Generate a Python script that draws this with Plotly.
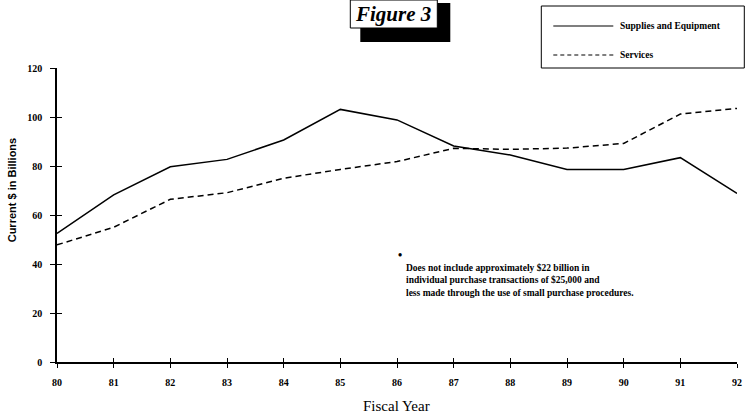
import plotly.graph_objects as go

years = [80, 81, 82, 83, 84, 85, 86, 87, 88, 89, 90, 91, 92]
supplies = [52.5, 68.2, 79.7, 82.7, 90.6, 103.1, 98.8, 88.2, 84.5, 78.6, 78.6, 83.4, 68.8]
services = [47.8, 55.0, 66.4, 69.1, 75.0, 78.6, 81.8, 87.2, 86.8, 87.3, 89.2, 101.2, 103.5]
y_ticks = [0, 20, 40, 60, 80, 100, 120]
x_tick_labels = [str(y) for y in years]

# plot area geometry (pixels)
W, H = 746, 418
L, R, T, B = 56.7, 736.7, 68, 362


def px(x):
    return (x - L) / (R - L)


def py(y):
    return (B - y) / (B - T)


SERIF = "Liberation Serif, Times New Roman, serif"
SANSN = "Liberation Sans Narrow, Liberation Sans, Arial Narrow, sans-serif"

fig = go.Figure()
fig.add_trace(go.Scatter(x=years, y=supplies, mode="lines", name="Supplies and Equipment",
                         line=dict(color="black", width=1.5, dash="solid"), showlegend=False))
fig.add_trace(go.Scatter(x=years, y=services, mode="lines", name="Services",
                         line=dict(color="black", width=1.5, dash="6px,4px"), showlegend=False))
# invisible trace so the secondary axes (inner half of the crossing ticks) are drawn
fig.add_trace(go.Scatter(x=[80], y=[0], xaxis="x2", yaxis="y2", mode="markers",
                         marker=dict(opacity=0), showlegend=False, hoverinfo="skip"))

tickfont = dict(family=SERIF, size=10, color="black", weight="bold")

fig.update_layout(
    width=W, height=H,
    margin=dict(l=L, r=W - R, t=T, b=H - B, autoexpand=False),
    paper_bgcolor="white", plot_bgcolor="white",
    xaxis=dict(range=[80, 92], tickvals=years, ticktext=x_tick_labels, automargin=False,
               showgrid=False, zeroline=False, showline=True, linecolor="black", linewidth=1.5,
               ticks="outside", ticklen=4, tickwidth=1, tickcolor="black",
               tickfont=tickfont, ticklabelstandoff=6),
    yaxis=dict(range=[0, 120], tickvals=y_ticks, automargin=False,
               showgrid=False, zeroline=False, showline=True, linecolor="black", linewidth=1.5,
               ticks="outside", ticklen=5, tickwidth=1, tickcolor="black",
               tickfont=tickfont, ticklabelstandoff=6),
    xaxis2=dict(range=[80, 92], tickvals=years, overlaying="x", anchor="y2", showticklabels=False,
                automargin=False, showgrid=False, zeroline=False, showline=False, ticks="inside",
                ticklen=4, tickwidth=1, tickcolor="black"),
    yaxis2=dict(range=[0, 120], tickvals=y_ticks, overlaying="y", anchor="x2", showticklabels=False,
                automargin=False, showgrid=False, zeroline=False, showline=False, ticks="inside",
                ticklen=5, tickwidth=1, tickcolor="black"),
)

shapes = []
# Figure 3 box: shadow then white box
shapes.append(dict(type="rect", xref="paper", yref="paper",
                   x0=px(360), x1=px(450), y0=py(42), y1=py(3),
                   fillcolor="black", line=dict(width=0), layer="above"))
shapes.append(dict(type="rect", xref="paper", yref="paper",
                   x0=px(350), x1=px(437), y0=py(28), y1=py(0),
                   fillcolor="white", line=dict(color="black", width=1), layer="above"))
# legend box
shapes.append(dict(type="rect", xref="paper", yref="paper",
                   x0=px(541), x1=px(744), y0=py(68), y1=py(6),
                   fillcolor="white", line=dict(color="black", width=1), layer="above"))
shapes.append(dict(type="line", xref="paper", yref="paper",
                   x0=px(553), x1=px(613), y0=py(26), y1=py(26),
                   line=dict(color="black", width=1.2), layer="above"))
shapes.append(dict(type="line", xref="paper", yref="paper",
                   x0=px(553), x1=px(613), y0=py(55), y1=py(55),
                   line=dict(color="black", width=1.2, dash="4px,3px"), layer="above"))
fig.update_layout(shapes=shapes)

annotations = [
    dict(text="<b><i>Figure 3</i></b>", xref="paper", yref="paper", x=px(393), y=py(14),
         xanchor="center", yanchor="middle", showarrow=False,
         font=dict(family=SERIF, size=21, color="black")),
    dict(text="<b>Supplies and Equipment</b>", xref="paper", yref="paper", x=px(618), y=py(26),
         xanchor="left", yanchor="middle", showarrow=False,
         font=dict(family=SERIF, size=9.5, color="black")),
    dict(text="<b>Services</b>", xref="paper", yref="paper", x=px(618), y=py(55),
         xanchor="left", yanchor="middle", showarrow=False,
         font=dict(family=SERIF, size=9.5, color="black")),
    dict(text="<b>•</b>", xref="paper", yref="paper", x=px(400), y=py(255),
         xanchor="center", yanchor="middle", showarrow=False,
         font=dict(family=SERIF, size=12, color="black")),
    dict(text="<b>Does not include approximately $22 billion in<br>"
              "individual purchase transactions of $25,000 and<br>"
              "less made through the use of small purchase procedures.</b>",
         xref="paper", yref="paper", x=px(404), y=py(261),
         xanchor="left", yanchor="top", align="left", showarrow=False,
         font=dict(family=SERIF, size=9.5, color="black")),
    # axis titles
    dict(text="Fiscal Year", xref="paper", yref="paper", x=px(396), y=py(406),
         xanchor="center", yanchor="middle", showarrow=False,
         font=dict(family=SERIF, size=15, color="black")),
    dict(text="<b>Current $ in Billions</b>", xref="paper", yref="paper", x=px(12), y=py(190),
         xanchor="center", yanchor="middle", showarrow=False, textangle=-90,
         font=dict(family=SANSN, size=11, color="black")),
]
fig.update_layout(annotations=annotations)

fig.write_html("out.html", config={"displayModeBar": False},
               post_script="document.body.style.margin='0px';document.body.style.overflow='hidden';")
